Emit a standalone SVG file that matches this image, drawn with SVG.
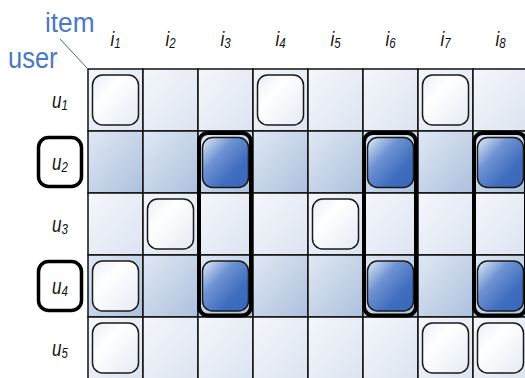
<svg xmlns="http://www.w3.org/2000/svg" width="525" height="378" viewBox="0 0 525 378">
<defs>
<linearGradient id="gL" x1="0" y1="0" x2="1" y2="1"><stop offset="0" stop-color="#f4f7fb"/><stop offset="1" stop-color="#dce4f1"/></linearGradient>
<linearGradient id="gD" x1="0" y1="0" x2="1" y2="1"><stop offset="0" stop-color="#e0e8f4"/><stop offset="1" stop-color="#adc0dd"/></linearGradient>
<linearGradient id="gW" x1="0" y1="0" x2="1" y2="1"><stop offset="0" stop-color="#e9eef6"/><stop offset="0.35" stop-color="#ffffff"/><stop offset="1" stop-color="#e4eaf4"/></linearGradient>
<linearGradient id="gB" x1="0" y1="0" x2="1" y2="1"><stop offset="0" stop-color="#e4ecf7"/><stop offset="0.35" stop-color="#6e93d2"/><stop offset="0.7" stop-color="#3e6cbe"/><stop offset="1" stop-color="#3a67b9"/></linearGradient>
<style>
.cl{fill:url(#gL);stroke:#111;stroke-width:1.5}
.cd{fill:url(#gD);stroke:#111;stroke-width:1.5}
.sw{fill:url(#gW);stroke:#1a1a1a;stroke-width:1.5}
.sb{fill:url(#gB);stroke:#1a1a1a;stroke-width:1.5}
.hl{fill:none;stroke:#000;stroke-width:4}
.lb{fill:none;stroke:#000;stroke-width:3.5}
.t{font-family:"Liberation Sans",Arial,sans-serif;font-style:italic;font-size:17px;fill:#111}
.s{font-size:11.5px}
.bl{font-family:"Liberation Sans",Arial,sans-serif;font-size:25px;fill:#4a78c6}
</style>
</defs>
<g id="grid">
<rect class="cl" x="88" y="69" width="55" height="62"/><rect class="cl" x="143" y="69" width="55" height="62"/><rect class="cl" x="198" y="69" width="55" height="62"/><rect class="cl" x="253" y="69" width="55" height="62"/><rect class="cl" x="308" y="69" width="55" height="62"/><rect class="cl" x="363" y="69" width="55" height="62"/><rect class="cl" x="418" y="69" width="55" height="62"/><rect class="cl" x="473" y="69" width="55" height="62"/>
<rect class="cd" x="88" y="131" width="55" height="62"/><rect class="cd" x="143" y="131" width="55" height="62"/><rect class="cd" x="198" y="131" width="55" height="62"/><rect class="cd" x="253" y="131" width="55" height="62"/><rect class="cd" x="308" y="131" width="55" height="62"/><rect class="cd" x="363" y="131" width="55" height="62"/><rect class="cd" x="418" y="131" width="55" height="62"/><rect class="cd" x="473" y="131" width="55" height="62"/>
<rect class="cl" x="88" y="193" width="55" height="62"/><rect class="cl" x="143" y="193" width="55" height="62"/><rect class="cl" x="198" y="193" width="55" height="62"/><rect class="cl" x="253" y="193" width="55" height="62"/><rect class="cl" x="308" y="193" width="55" height="62"/><rect class="cl" x="363" y="193" width="55" height="62"/><rect class="cl" x="418" y="193" width="55" height="62"/><rect class="cl" x="473" y="193" width="55" height="62"/>
<rect class="cd" x="88" y="255" width="55" height="62"/><rect class="cd" x="143" y="255" width="55" height="62"/><rect class="cd" x="198" y="255" width="55" height="62"/><rect class="cd" x="253" y="255" width="55" height="62"/><rect class="cd" x="308" y="255" width="55" height="62"/><rect class="cd" x="363" y="255" width="55" height="62"/><rect class="cd" x="418" y="255" width="55" height="62"/><rect class="cd" x="473" y="255" width="55" height="62"/>
<rect class="cl" x="88" y="317" width="55" height="62"/><rect class="cl" x="143" y="317" width="55" height="62"/><rect class="cl" x="198" y="317" width="55" height="62"/><rect class="cl" x="253" y="317" width="55" height="62"/><rect class="cl" x="308" y="317" width="55" height="62"/><rect class="cl" x="363" y="317" width="55" height="62"/><rect class="cl" x="418" y="317" width="55" height="62"/><rect class="cl" x="473" y="317" width="55" height="62"/>
</g>
<g id="ratings">
<rect id="r1c1" class="sw" x="92.5" y="75" width="46" height="50" rx="10"/>
<rect id="r1c4" class="sw" x="257.5" y="75" width="46" height="50" rx="10"/>
<rect id="r1c7" class="sw" x="422.5" y="75" width="46" height="50" rx="10"/>
<rect id="r2c3" class="sb" x="202.5" y="137.5" width="46" height="50" rx="10"/>
<rect id="r2c6" class="sb" x="367.5" y="137.5" width="46" height="50" rx="10"/>
<rect id="r2c8" class="sb" x="477.5" y="137.5" width="46" height="50" rx="10"/>
<rect id="r3c2" class="sw" x="147.5" y="199" width="46" height="50" rx="10"/>
<rect id="r3c5" class="sw" x="312.5" y="199" width="46" height="50" rx="10"/>
<rect id="r4c1" class="sw" x="92.5" y="261" width="46" height="50" rx="10"/>
<rect id="r4c3" class="sb" x="202.5" y="261" width="46" height="50" rx="10"/>
<rect id="r4c6" class="sb" x="367.5" y="261" width="46" height="50" rx="10"/>
<rect id="r4c8" class="sb" x="477.5" y="261" width="46" height="50" rx="10"/>
<rect id="r5c1" class="sw" x="92.5" y="323" width="46" height="50" rx="10"/>
<rect id="r5c7" class="sw" x="422.5" y="323" width="46" height="50" rx="10"/>
<rect id="r5c8" class="sw" x="477.5" y="323" width="46" height="50" rx="10"/>
</g>
<g id="highlights">
<rect id="col3" class="hl" x="199" y="133" width="52" height="182.5" rx="9"/>
<rect id="col6" class="hl" x="364" y="133" width="52" height="182.5" rx="9"/>
<rect id="col8" class="hl" x="474" y="133" width="52" height="182.5" rx="9"/>
</g>
<g id="connectors">
<line x1="60" y1="39" x2="88" y2="69" stroke="#3d7565" stroke-width="1"/>
</g>
<g id="axis-labels">
<text class="bl" transform="translate(45,32) scale(1.05,1.1)">item</text>
<text class="bl" transform="translate(8,68) scale(1.02,1.2)">user</text>
</g>
<g id="item-labels">
<text class="t" text-anchor="middle" transform="translate(115.5,46) scale(1,1.2)">i<tspan class="s" dy="1.5">1</tspan></text>
<text class="t" text-anchor="middle" transform="translate(170.5,46) scale(1,1.2)">i<tspan class="s" dy="1.5">2</tspan></text>
<text class="t" text-anchor="middle" transform="translate(225.5,46) scale(1,1.2)">i<tspan class="s" dy="1.5">3</tspan></text>
<text class="t" text-anchor="middle" transform="translate(280.5,46) scale(1,1.2)">i<tspan class="s" dy="1.5">4</tspan></text>
<text class="t" text-anchor="middle" transform="translate(335.5,46) scale(1,1.2)">i<tspan class="s" dy="1.5">5</tspan></text>
<text class="t" text-anchor="middle" transform="translate(390.5,46) scale(1,1.2)">i<tspan class="s" dy="1.5">6</tspan></text>
<text class="t" text-anchor="middle" transform="translate(445.5,46) scale(1,1.2)">i<tspan class="s" dy="1.5">7</tspan></text>
<text class="t" text-anchor="middle" transform="translate(500.5,46) scale(1,1.2)">i<tspan class="s" dy="1.5">8</tspan></text>
</g>
<g id="user-labels">
<text class="t" text-anchor="middle" transform="translate(60,108) scale(1,1.3)">u<tspan class="s" dy="1.5">1</tspan></text>
<g id="u2"><rect class="lb" x="38.5" y="137.5" width="43" height="49" rx="10"/>
<text class="t" text-anchor="middle" transform="translate(60,170) scale(1,1.3)">u<tspan class="s" dy="1.5">2</tspan></text></g>
<text class="t" text-anchor="middle" transform="translate(60,232) scale(1,1.3)">u<tspan class="s" dy="1.5">3</tspan></text>
<g id="u4"><rect class="lb" x="38.5" y="261.5" width="43" height="49" rx="10"/>
<text class="t" text-anchor="middle" transform="translate(60,294) scale(1,1.3)">u<tspan class="s" dy="1.5">4</tspan></text></g>
<text class="t" text-anchor="middle" transform="translate(60,356) scale(1,1.3)">u<tspan class="s" dy="1.5">5</tspan></text>
</g>
</svg>
